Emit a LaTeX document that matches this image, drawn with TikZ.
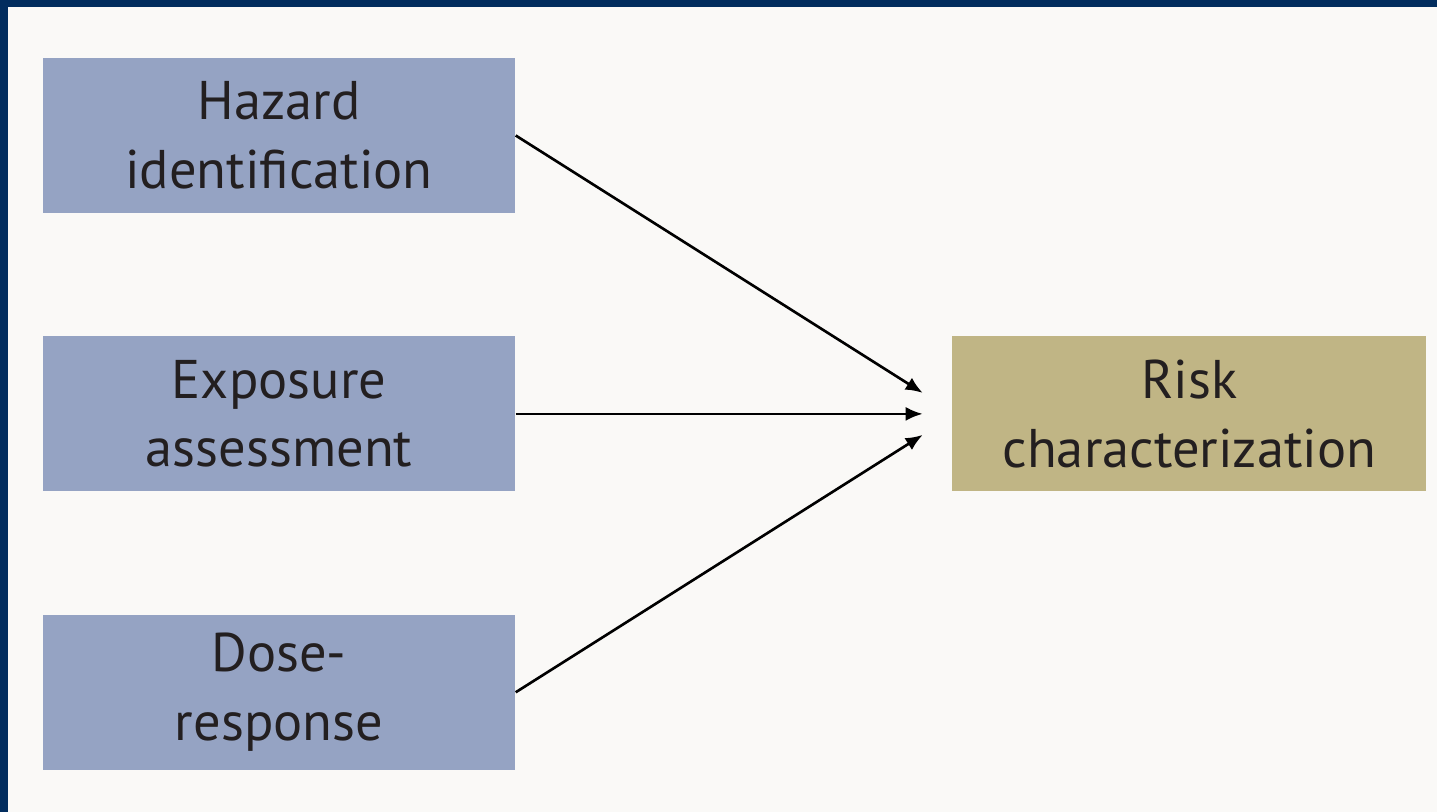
\documentclass[tikz,border=0pt]{standalone}
\usepackage{fontspec}
\setmainfont{PT Sans}
\usetikzlibrary{arrows.meta,positioning}
\definecolor{navyframe}{HTML}{022D5E}
\definecolor{paper}{HTML}{FAF9F7}
\definecolor{stepblue}{HTML}{95A3C3}
\definecolor{riskolive}{HTML}{C0B585}
\definecolor{inkgray}{HTML}{231F20}
\tikzset{>={Latex[length=1.7mm,width=1.4mm]}}
\tikzset{stage/.style={fill=stepblue, minimum width=4.72cm, minimum height=1.55cm,
    align=center, inner sep=0pt, text=inkgray, font=\fontsize{15.5}{19.5}\selectfont}}

\begin{document}
\begin{tikzpicture}

\def \gap {1.22cm}
\def \tipgap {2.9mm}

% frame and background
\fill[navyframe] (0,0) rectangle (14.37,8.12);
\fill[paper] (0.08,0) rectangle (14.37,8.05);
\useasboundingbox (0,0) rectangle (14.37,8.12);

  \node[stage] (hazard) at (2.79,6.765) {Hazard\\identification};
  \node[stage, below=\gap of hazard] (exposure) {Exposure\\assessment};
  \node[stage, below=\gap of exposure] (dose) {Dose-\\response};
  \node[stage, fill=riskolive, minimum width=4.74cm, right=4.36cm of exposure] (risk) {Risk\\characterization};

\coordinate (tip) at ([xshift=-\tipgap]risk.west);

\draw[->, line width=0.75pt] (hazard.east) -- ([yshift=2.1mm]tip);
\draw[->, line width=0.75pt] (exposure.east) -- (tip);
\draw[->, line width=0.75pt] (dose.east) -- ([yshift=-2.1mm]tip);

\end{tikzpicture}
\end{document}
